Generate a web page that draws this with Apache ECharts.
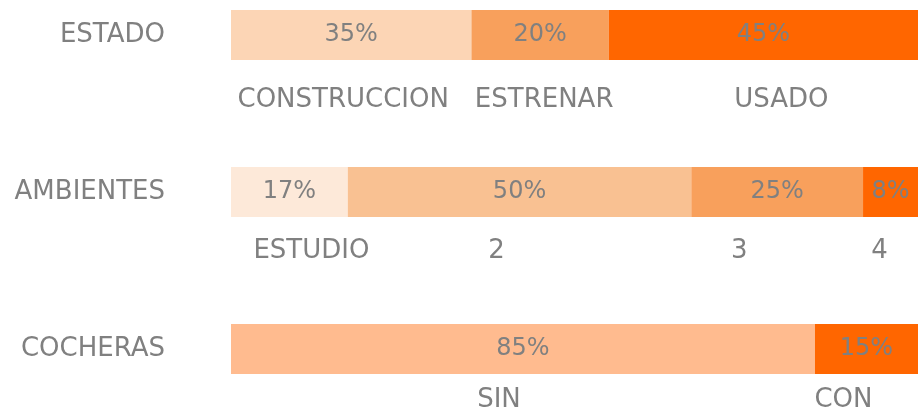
<!DOCTYPE html>
<html>
<head>
<meta charset="utf-8">
<script src="https://cdn.jsdelivr.net/npm/echarts@6/dist/echarts.min.js"></script>
<style>
  html, body { margin: 0; padding: 0; background: #fff; }
  #chart { width: 918px; height: 411px; }
</style>
</head>
<body>
<div id="chart"></div>
<script>
// rows of the chart (top to bottom)
const rows = ['ESTADO', 'AMBIENTES', 'COCHERAS'];

// segments of each row, in %
const estadoNames = ['CONSTRUCCION', 'ESTRENAR', 'USADO'];
const estadoValues = [35, 20, 45];
const ambientesNames = ['ESTUDIO', '2', '3', '4'];
const ambientesValues = [17, 50, 25, 8];
const cocherasNames = ['SIN', 'CON'];
const cocherasValues = [85, 15];

const segNames = [estadoNames, ambientesNames, cocherasNames];
const segValues = [estadoValues, ambientesValues, cocherasValues];

// look
const palette = [
  ['#FCD5B5', '#F8A05C', '#FF6600'],
  ['#FDE9D9', '#F9C192', '#F8A05C', '#FF6600'],
  ['#FFBB8F', '#FF6600']
];
const nameGap = [27, 21, 13];
const nameShift = [
  [-8, 4, 18],
  [22, -23, -38, -11],
  [-24, -23]
];
const font = 'DejaVu Sans';
const grey = '#808080';

const chart = echarts.init(document.getElementById('chart'));
const segCount = Math.max(...segValues.map(v => v.length));
const series = [];

for (let j = 0; j < segCount; j++) {
  series.push({
    type: 'bar',
    stack: 'pct',
    barWidth: 50,
    barGap: '-100%',
    data: rows.map((r, i) => segValues[i][j] == null ? '-' : {
      value: segValues[i][j],
      itemStyle: { color: palette[i][j] }
    }),
    label: {
      show: true,
      position: 'inside',
      formatter: p => p.value + '%',
      color: grey,
      fontSize: 24,
      fontFamily: font
    }
  });
  // transparent twin bars carrying the segment names below
  series.push({
    type: 'bar',
    stack: 'name',
    barWidth: 50,
    barGap: '-100%',
    silent: true,
    itemStyle: { color: 'transparent' },
    data: rows.map((r, i) => segValues[i][j] == null ? '-' : {
      value: segValues[i][j],
      label: { distance: nameGap[i], offset: [nameShift[i][j], 0] }
    }),
    label: {
      show: true,
      position: 'bottom',
      formatter: p => segNames[p.dataIndex][j],
      color: grey,
      fontSize: 26,
      fontFamily: font
    }
  });
}

const option = {
  animation: false,
  grid: { left: 231, right: 0, top: 35, bottom: 62 },
  xAxis: { type: 'value', min: 0, max: 100, show: false },
  yAxis: {
    type: 'category',
    data: rows,
    inverse: true,
    boundaryGap: false,
    axisLine: { show: false },
    axisTick: { show: false },
    splitLine: { show: false },
    axisLabel: { color: grey, fontSize: 26, fontFamily: font, margin: 66 }
  },
  series: series
};

option && chart.setOption(option);
</script>
</body>
</html>
